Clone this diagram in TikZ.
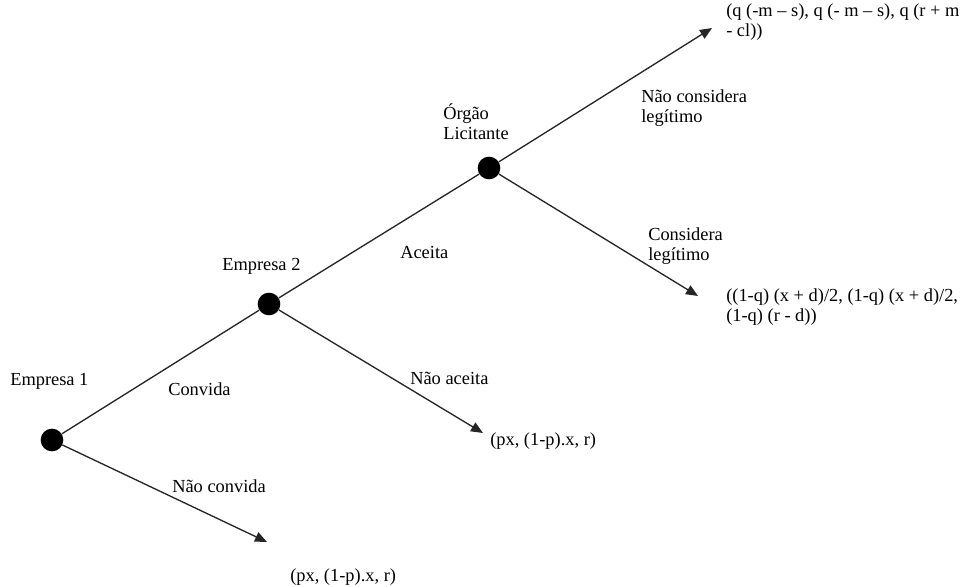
\documentclass[tikz,border=0pt]{standalone}
\usepackage{fontspec}
\setmainfont{Liberation Serif}
\usetikzlibrary{arrows.meta}
\begin{document}
\begin{tikzpicture}[x=0.75pt,y=-0.75pt,
  dot/.style={circle,fill=black,inner sep=0pt,minimum size=17pt},
  lbl/.style={anchor=base west,inner sep=0pt,font=\fontsize{13.8}{15}\selectfont,align=left},
  edge/.style={line width=1pt,draw=black!85},
  arr/.style={edge,-{Triangle[length=9pt,width=7.5pt]}}]
\useasboundingbox (0,0) rectangle (978,586);
% decision nodes
\node[dot] (e1) at (52,440) {};
\node[dot] (e2) at (269,304) {};
\node[dot] (og) at (489,168) {};
% arrow ends
\coordinate (t1) at (712,28);
\coordinate (t2) at (698,296);
\coordinate (t3) at (483,433);
\coordinate (t4) at (267,542);
% edges
\draw[edge] (e1) -- (e2);
\draw[edge] (e2) -- (og);
\draw[arr] (og) -- (t1);
\draw[arr] (og) -- (t2);
\draw[arr] (e2) -- (t3);
\draw[arr] (e1) -- (t4);
% labels (for two-line labels the point is the baseline of the last line)
\node[lbl] (l1) at (10,385) {Empresa 1};
\node[lbl] (l2) at (222,270) {Empresa 2};
\node[lbl] (l3) at (443,139) {Órgão\\Licitante};
\node[lbl] (l4) at (168,395) {Convida};
\node[lbl] (l5) at (400,258) {Aceita};
\node[lbl] (l6) at (410,384) {Não aceita};
\node[lbl] (l7) at (172,492) {Não convida};
\node[lbl] (l8) at (641,122) {Não considera\\legítimo};
\node[lbl] (l9) at (648,260) {Considera\\legítimo};
% payoffs
\node[lbl] (p1) at (726,36) {(q (-m – s), q (- m – s), q (r + m\\- cl))};
\node[lbl] (p2) at (726,321) {((1-q) (x + d)/2, (1-q) (x + d)/2,\\(1-q) (r - d))};
\node[lbl] (p3) at (490,445) {(px, (1-p).x, r)};
\node[lbl] (p4) at (290,581) {(px, (1-p).x, r)};
\end{tikzpicture}
\end{document}
